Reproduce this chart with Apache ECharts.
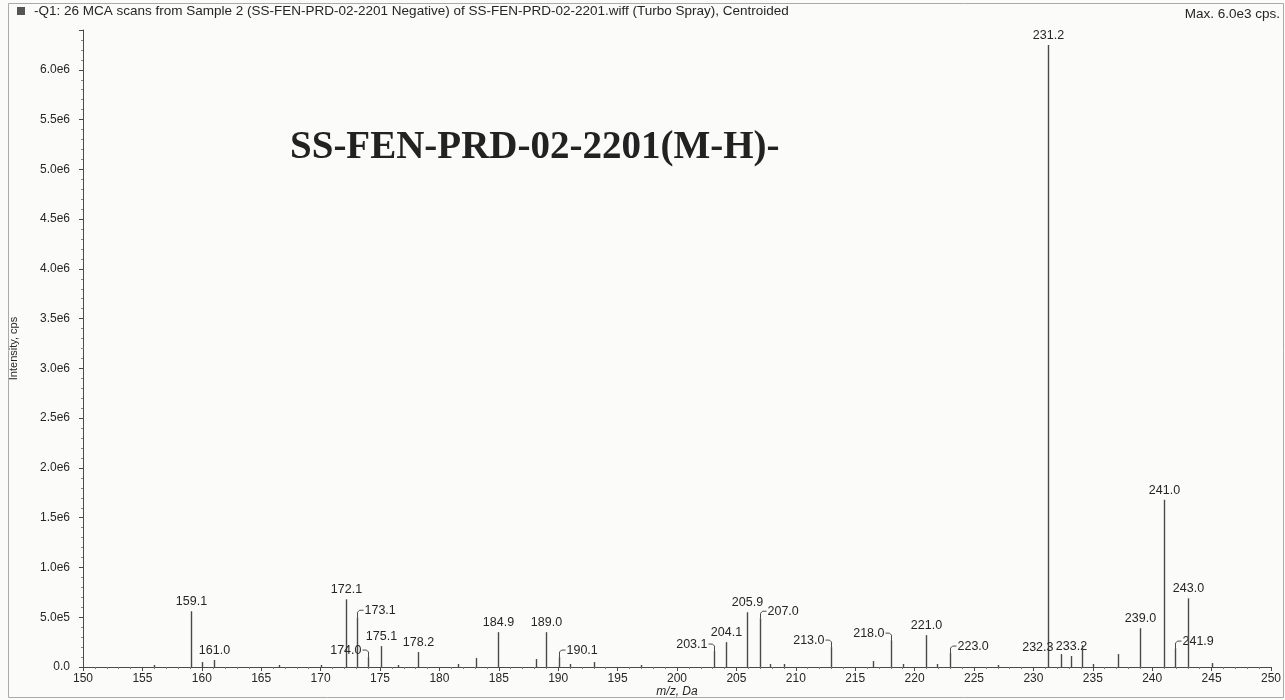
<!DOCTYPE html>
<html>
<head>
<meta charset="utf-8">
<script src="https://cdn.jsdelivr.net/npm/echarts@6/dist/echarts.min.js"></script>
<style>
html,body{margin:0;padding:0;background:#fbfbf9;}
#chart{width:1285px;height:700px;}
</style>
</head>
<body>
<div id="chart"></div>
<script>
// ---- data ----
const peakMz = [156.0, 159.1, 160.0, 161.0, 166.5, 170.0, 172.1, 173.1, 174.0, 175.1, 176.5, 178.2, 181.6, 183.1, 184.9, 188.1, 189.0, 190.1, 191.0, 193.0, 197.0, 203.1, 204.1, 205.9, 207.0, 207.8, 209.0, 213.0, 216.5, 218.0, 219.0, 221.0, 221.9, 223.0, 227.0, 231.2, 232.3, 233.2, 234.1, 235.0, 237.1, 239.0, 241.0, 241.9, 243.0, 245.0];
const peakIntensity = [0.02e6, 0.56e6, 0.05e6, 0.07e6, 0.02e6, 0.02e6, 0.68e6, 0.50e6, 0.10e6, 0.21e6, 0.02e6, 0.15e6, 0.03e6, 0.09e6, 0.35e6, 0.08e6, 0.35e6, 0.10e6, 0.03e6, 0.05e6, 0.02e6, 0.16e6, 0.25e6, 0.55e6, 0.49e6, 0.03e6, 0.03e6, 0.20e6, 0.06e6, 0.27e6, 0.03e6, 0.32e6, 0.03e6, 0.14e6, 0.02e6, 6.25e6, 0.13e6, 0.11e6, 0.22e6, 0.03e6, 0.13e6, 0.39e6, 1.68e6, 0.19e6, 0.69e6, 0.04e6];
const peakLabels = ['', '159.1', '', '161.0', '', '', '172.1', '173.1', '174.0', '175.1', '', '178.2', '', '', '184.9', '', '189.0', '190.1', '', '', '', '203.1', '204.1', '205.9', '207.0', '', '', '213.0', '', '218.0', '', '221.0', '', '223.0', '', '231.2', '232.3', '233.2', '', '', '', '239.0', '241.0', '241.9', '243.0', ''];
const xTickLabels = ['150','155','160','165','170','175','180','185','190','195','200','205','210','215','220','225','230','235','240','245','250'];
const yTickLabels = ['0.0','5.0e5','1.0e6','1.5e6','2.0e6','2.5e6','3.0e6','3.5e6','4.0e6','4.5e6','5.0e6','5.5e6','6.0e6'];
const headerText = '-Q1: 26 MCA scans from Sample 2 (SS-FEN-PRD-02-2201 Negative) of SS-FEN-PRD-02-2201.wiff (Turbo Spray), Centroided';
const maxText = 'Max. 6.0e3 cps.';
const titleText = 'SS-FEN-PRD-02-2201(M-H)-';

// ---- label placement (style only) ----
const labelSide = {
  '173.1': 'right', '174.0': 'left', '190.1': 'right', '203.1': 'left',
  '207.0': 'right', '213.0': 'left', '218.0': 'left', '223.0': 'right',
  '232.3': 'leftPlain', '241.9': 'right'
};

const ink = '#262626';
const lineInk = '#4a4a4a';
const font = '"Liberation Sans", Arial, sans-serif';

const chart = echarts.init(document.getElementById('chart'));
const seriesData = peakMz.map((m, i) => [m, peakIntensity[i], i]);

function renderItem(params, api) {
  const idx = api.value(2);
  const top = api.coord([api.value(0), api.value(1)]);
  const base = api.coord([api.value(0), 0]);
  const x = Math.round(top[0]) + 0.5;
  const y = top[1];
  const children = [{
    type: 'line',
    shape: {x1: x, y1: base[1], x2: x, y2: y},
    style: {stroke: lineInk, lineWidth: 1.4}
  }];
  const lab = peakLabels[idx];
  if (lab) {
    const side = labelSide[lab] || 'top';
    const ts = {fill: ink, font: '12.5px ' + font, text: lab};
    if (side === 'top') {
      children.push({type: 'text', x: x, y: y - 3, style: Object.assign(ts, {align: 'center', verticalAlign: 'bottom'})});
    } else if (side === 'right') {
      children.push({type: 'polyline', shape: {points: [[x, y], [x, y - 5], [x + 2, y - 7], [x + 6, y - 7]]}, style: {stroke: lineInk, lineWidth: 1, fill: null}});
      children.push({type: 'text', x: x + 7, y: y - 7, style: Object.assign(ts, {align: 'left', verticalAlign: 'middle'})});
    } else if (side === 'left') {
      children.push({type: 'polyline', shape: {points: [[x, y], [x, y - 5], [x - 2, y - 7], [x - 6, y - 7]]}, style: {stroke: lineInk, lineWidth: 1, fill: null}});
      children.push({type: 'text', x: x - 7, y: y - 7, style: Object.assign(ts, {align: 'right', verticalAlign: 'middle'})});
    } else {
      children.push({type: 'text', x: x - 8, y: y - 7, style: Object.assign(ts, {align: 'right', verticalAlign: 'middle'})});
    }
  }
  return {type: 'group', children: children};
}

const option = {
  backgroundColor: '#fbfbf9',
  animation: false,
  grid: {left: 83, right: 14, top: 30, bottom: 33, containLabel: false, outerBoundsMode: 'none'},
  xAxis: {
    type: 'value', min: 150, max: 250, interval: 5,
    name: 'm/z, Da', nameLocation: 'middle', nameGap: 19, nameMoveOverlap: false,
    nameTextStyle: {color: ink, fontFamily: font, fontSize: 12, fontStyle: 'italic'},
    axisLine: {lineStyle: {color: lineInk, width: 1.2}},
    axisTick: {length: 4, lineStyle: {color: lineInk}},
    minorTick: {show: true, splitNumber: 5, length: 2, lineStyle: {color: '#777'}},
    splitLine: {show: false},
    axisLabel: {color: ink, fontFamily: font, fontSize: 12, margin: 6,
      formatter: v => { const s = String(Math.round(v)); return xTickLabels.indexOf(s) >= 0 ? s : ''; }}
  },
  yAxis: {
    type: 'value', min: 0, max: 6.4e6, interval: 5e5,
    name: 'Intensity, cps', nameLocation: 'middle', nameGap: 64, nameRotate: 90, nameMoveOverlap: false,
    nameTextStyle: {color: ink, fontFamily: font, fontSize: 11},
    axisLine: {show: true, lineStyle: {color: lineInk, width: 1}},
    axisTick: {show: true, length: 4, lineStyle: {color: lineInk}},
    minorTick: {show: true, splitNumber: 5, length: 2, lineStyle: {color: '#888'}},
    splitLine: {show: false},
    axisLabel: {color: ink, fontFamily: font, fontSize: 12, margin: 13, showMaxLabel: false,
      formatter: v => { const k = Math.round(v / 5e5); return (Math.abs(v - k * 5e5) < 1 && k < yTickLabels.length) ? yTickLabels[k] : ''; }}
  },
  series: [{
    type: 'custom',
    renderItem: renderItem,
    data: seriesData,
    encode: {x: 0, y: 1},
    clip: false
  }],
  graphic: [
    {type: 'rect', shape: {x: 8.5, y: 3.5, width: 1275, height: 694}, style: {fill: null, stroke: '#aaa', lineWidth: 1}, silent: true, z: -1},
    {type: 'rect', shape: {x: 17, y: 7, width: 8, height: 8}, style: {fill: '#555'}},
    {type: 'text', left: 34, top: 4, style: {text: headerText, fill: ink, font: '13.5px ' + font}},
    {type: 'text', right: 5, top: 7, style: {text: maxText, fill: ink, font: '13.5px ' + font}},
    {type: 'text', left: 290, top: 128, style: {text: titleText, fill: '#222', font: 'bold 39px "Liberation Serif", "Times New Roman", serif'}}
  ]
};
chart.setOption(option);
</script>
</body>
</html>
